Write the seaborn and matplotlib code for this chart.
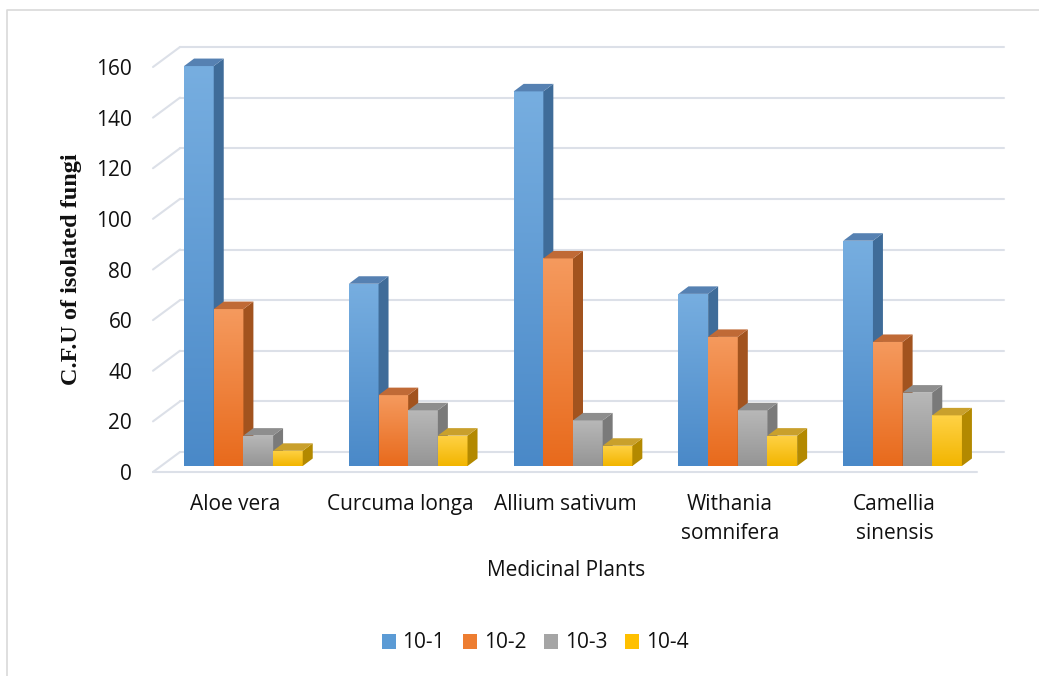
import numpy as np
import pandas as pd
import matplotlib
matplotlib.use("Agg")
import matplotlib.pyplot as plt
from matplotlib.colors import LinearSegmentedColormap
from matplotlib.lines import Line2D
from matplotlib.patches import Polygon, Patch
from matplotlib.transforms import ScaledTranslation
import seaborn as sns

# ---- data ----
plants = ["Aloe vera", "Curcuma longa", "Allium sativum",
          "Withania\nsomnifera", "Camellia\nsinensis"]
dilutions = ["10-1", "10-2", "10-3", "10-4"]
cfu_10_1 = [158, 72, 148, 68, 89]
cfu_10_2 = [62, 28, 82, 51, 49]
cfu_10_3 = [12, 22, 18, 22, 29]
cfu_10_4 = [6, 12, 8, 12, 20]
y_ticks = [0, 20, 40, 60, 80, 100, 120, 140, 160]

series = [cfu_10_1, cfu_10_2, cfu_10_3, cfu_10_4]
df = pd.DataFrame({
    "plant": [p for _ in dilutions for p in plants],
    "dilution": [d for d in dilutions for _ in plants],
    "cfu": [v for s in series for v in s],
})

# ---- styling ----
base = ["#5B9BD5", "#ED7D31", "#A5A5A5", "#FFC000"]
light = ["#77AEE0", "#F59A5E", "#B8B8B8", "#FFD246"]
dark = ["#4A89C8", "#E86A1C", "#959595", "#F2B500"]
side = ["#3F6C99", "#A2531E", "#7A7A7A", "#B38900"]
top = ["#5681B2", "#C06A36", "#8E8E8E", "#C9A02C"]
grid_c = "#DCE0E8"
text_c = "#111111"

sns.set_style("white")
plt.rcParams["font.family"] = ["Open Sans", "DejaVu Sans"]

DPI = 100
fig = plt.figure(figsize=(10.39, 6.76), dpi=DPI)
W, H = 1039, 676

# axes = front plane of the 3D box
ax_l, ax_r, ax_b0, ax_t = 153, 977, 472, 67
ax = fig.add_axes([ax_l / W, (H - ax_b0) / H, (ax_r - ax_l) / W, (ax_b0 - ax_t) / H])

pal = dict(zip(dilutions, base))
sns.barplot(data=df, x="plant", y="cfu", hue="dilution", hue_order=dilutions,
            order=plants, palette=pal, width=0.72, saturation=1, legend=False,
            ax=ax, errorbar=None)

ax.set_xlim(-0.5, 4.5)
ax.set_ylim(0, 160)

# pixel -> data conversion for depth offsets
sx = (ax_r - ax_l) / 5.0
sy = (ax_b0 - ax_t) / 160.0

def shifted(dx_px, dy_px):
    return ax.transData + ScaledTranslation(dx_px / DPI, dy_px / DPI, fig.dpi_scale_trans)

bar_trans = shifted(8, 6)
back_dx, back_dy = 27, 20
depth_dx, depth_dy = 10 / sx, 7.5 / sy

# back wall gridlines, side wall diagonals, floor edge
for v in y_ticks:
    ax.plot([-0.5, 4.5], [v, v], color=grid_c, lw=1.5,
            transform=shifted(back_dx, back_dy), clip_on=False, zorder=0)
    ax.plot([-0.5, -0.5 + back_dx / sx], [v, v + back_dy / sy], color=grid_c,
            lw=1.5, clip_on=False, zorder=0)
ax.plot([-0.5, 4.5], [0, 0], color=grid_c, lw=1.5, clip_on=False, zorder=0.5)

# 3D bars: gradient front, dark side, top face
grad = np.linspace(0, 1, 256).reshape(-1, 1)
for k, cont in enumerate(ax.containers):
    cmap = LinearSegmentedColormap.from_list(f"g{k}", [dark[k], light[k]])
    for rect in cont.patches:
        x0, w, h = rect.get_x(), rect.get_width(), rect.get_height()
        x1 = x0 + w
        z = 2 + k
        rect.set_transform(bar_trans)
        rect.set_zorder(z)
        rect.set_linewidth(0)
        rect.set_clip_on(False)
        im = ax.imshow(grad, cmap=cmap, origin="lower", aspect="auto",
                       extent=(x0, x1, 0, h), transform=bar_trans,
                       zorder=z + 0.1, interpolation="bicubic")
        im.set_clip_path(rect)
        ax.add_patch(Polygon([(x1, 0), (x1, h), (x1 + depth_dx, h + depth_dy),
                              (x1 + depth_dx, depth_dy)], closed=True,
                             facecolor=side[k], edgecolor="none",
                             transform=bar_trans, zorder=z + 0.2, clip_on=False))
        ax.add_patch(Polygon([(x0, h), (x1, h), (x1 + depth_dx, h + depth_dy),
                              (x0 + depth_dx, h + depth_dy)], closed=True,
                             facecolor=top[k], edgecolor="none",
                             transform=bar_trans, zorder=z + 0.2, clip_on=False))

ax.set_xlim(-0.5, 4.5)
ax.set_ylim(0, 160)
ax.set_yticks(y_ticks)
ax.set_yticklabels([str(v) for v in y_ticks])
ax.tick_params(axis="y", length=0, pad=15, labelsize=15, labelcolor=text_c)
ax.tick_params(axis="x", length=0, pad=16, labelsize=15, labelcolor=text_c)
for lab in ax.get_xticklabels():
    lab.set_linespacing(1.5)
ax.set_xlabel("")
ax.set_ylabel("")
for s in ax.spines.values():
    s.set_visible(False)
ax.grid(False)
ax.patch.set_alpha(0)

# axis titles
fig.text(72 / W, 1 - 269 / H, "C.F.U of isolated fungi", rotation=90,
         ha="center", va="center", fontsize=17.5, fontweight="bold",
         family="Liberation Serif", color=text_c)
fig.text(566 / W, 1 - 570 / H, "Medicinal Plants", ha="center", va="center",
         fontsize=15, color=text_c)

# legend
handles = [Patch(facecolor=c, edgecolor="none", label=d) for c, d in zip(base, dilutions)]
fig.legend(handles=handles, loc="center", bbox_to_anchor=(535 / W, 1 - 643 / H),
           ncol=4, frameon=False, fontsize=15, handlelength=0.7, handleheight=0.7,
           handletextpad=0.3, columnspacing=0.85, labelcolor=text_c)

# outer chart border
fig.add_artist(Line2D([7 / W, 7 / W, 1.0], [0.0, 1 - 10 / H, 1 - 10 / H],
                      color="#D9D9D9", lw=1.2, transform=fig.transFigure))

fig.savefig("out.png", dpi=DPI, facecolor="white")
